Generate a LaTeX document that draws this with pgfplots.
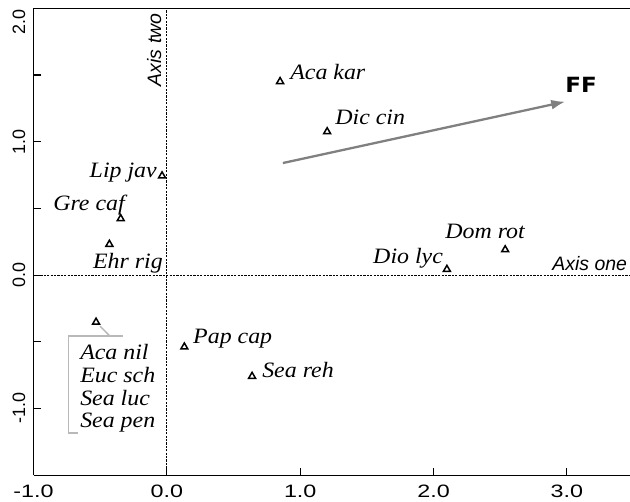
\documentclass[border=0pt]{standalone}
\usepackage{fontspec}
\setmainfont{Liberation Serif}
\newfontfamily\arial{Liberation Sans}
\newfontfamily\heavy{DejaVu Sans}
\usepackage{pgfplots}
\pgfplotsset{compat=1.18}
\usetikzlibrary{arrows.meta}
\tikzset{
  sp/.style={font=\fontsize{22}{26}\selectfont\itshape, inner sep=0pt, xscale=1.09},
  axl/.style={font=\arial\itshape\fontsize{19.5}{23}\selectfont, inner sep=0pt},
}
\begin{document}
\begin{tikzpicture}
\begin{axis}[
  scale only axis, width=596.3bp, height=466.7bp,
  xmin=-1, xmax=3.473, ymin=-1.5, ymax=2,
  axis x line*=bottom, axis y line*=left,
  axis line style={line width=1.2bp, black, -},
  tick align=inside, major tick length=7bp, minor tick length=7bp,
  tick style={line width=1.1bp, black},
  xtick={-1,0,1,2,3}, xticklabels={-1.0,0.0,1.0,2.0,3.0},
  ytick={-1,0,1}, yticklabels={-1.0,0.0,1.0},
  minor ytick={-0.5,0.5,1.5},
  xticklabel style={font=\arial\fontsize{18}{21}\selectfont, inner ysep=10bp, xscale=1.3},
  yticklabel style={font=\arial\fontsize{18}{21}\selectfont, rotate=90, anchor=south, inner ysep=8bp},
  clip=false,
]
% top border
\draw[line width=1.2bp, black] (rel axis cs:0,1) -- (rel axis cs:1,1);
% dashed reference axes
\addplot[black, line width=1bp, dash pattern=on 2.2bp off 1.2bp] coordinates {(0,-1.5) (0,2)};
\addplot[black, line width=1bp, dash pattern=on 2.2bp off 1.2bp] coordinates {(-1,0) (3.473,0)};
% bracket for grouped label
\addplot[gray!55, line width=1.5bp] coordinates {(-0.501,-0.383) (-0.43,-0.455)};
\addplot[gray!55, line width=1.5bp] coordinates {(-0.331,-0.455) (-0.739,-0.455) (-0.739,-1.183) (-0.666,-1.183)};
% FF arrow
\addplot[gray, line width=2.3bp, -{Latex[length=14bp,width=10bp]}] coordinates {(0.87,0.84) (2.987,1.30)};
% species scores
\addplot[only marks, mark=triangle, mark size=4bp, mark options={line width=1.5bp, black}] coordinates {
  (0.849,1.451) (1.202,1.075) (-0.036,0.744) (-0.346,0.423) (-0.431,0.231)
  (-0.531,-0.353) (0.131,-0.539) (0.639,-0.759) (2.100,0.043) (2.537,0.190)
};
% labels
\node[sp, anchor=west] at (axis cs:0.924,1.523) {Aca kar};
\node[sp, anchor=west] at (axis cs:1.262,1.185) {Dic cin};
\node[sp, anchor=east] at (axis cs:-0.074,0.765) {Lip jav};
\node[sp, anchor=east] at (axis cs:-0.314,0.525) {Gre caf};
\node[sp, anchor=east] at (axis cs:-0.029,0.090) {Ehr rig};
\node[sp, anchor=west] at (axis cs:-0.651,-0.578) {Aca nil};
\node[sp, anchor=west] at (axis cs:-0.651,-0.750) {Euc sch};
\node[sp, anchor=west] at (axis cs:-0.651,-0.923) {Sea luc};
\node[sp, anchor=west] at (axis cs:-0.651,-1.103) {Sea pen};
\node[sp, anchor=west] at (axis cs:0.196,-0.480) {Pap cap};
\node[sp, anchor=west] at (axis cs:0.714,-0.713) {Sea reh};
\node[sp, anchor=west] at (axis cs:1.546,0.128) {Dio lyc};
\node[sp, anchor=west] at (axis cs:2.087,0.330) {Dom rot};
\node[axl, anchor=east] at (axis cs:3.452,0.083) {Axis one};
\node[axl, rotate=90] at (axis cs:-0.096,1.688) {Axis two};
\node[font=\heavy\bfseries\fontsize{21}{25}\selectfont, inner sep=0pt, xscale=1.1] at (axis cs:3.107,1.425) {FF};
\node[font=\arial\fontsize{18}{21}\selectfont, rotate=90, anchor=south, inner ysep=8bp] at (axis cs:-1,1.898) {2.0};
\end{axis}
\pgfresetboundingbox
\path ([shift={(-33.5bp,-26bp)}]current axis.south west) rectangle ([shift={(0bp,8.3bp)}]current axis.north east);
\end{tikzpicture}
\end{document}
